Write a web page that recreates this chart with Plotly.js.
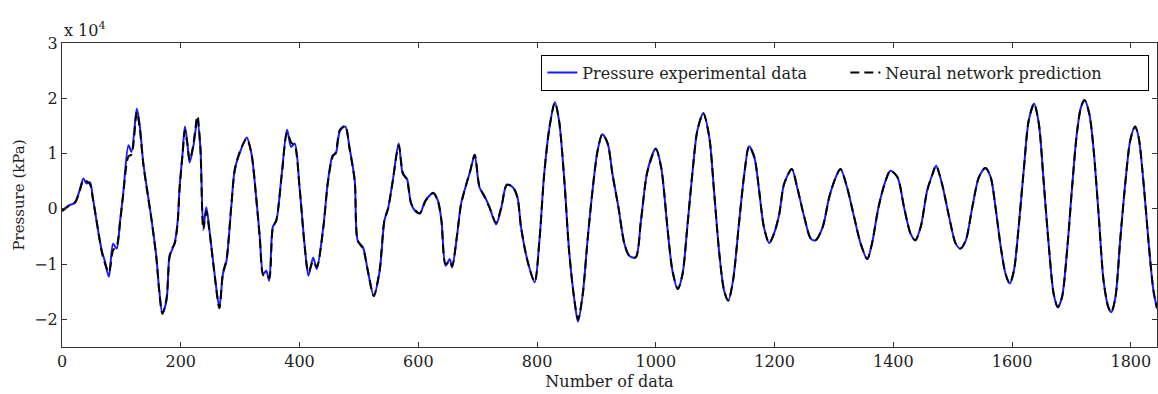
<!DOCTYPE html>
<html>
<head>
<meta charset="utf-8">
<script src="https://cdn.plot.ly/plotly-3.0.1.min.js"></script>
<style>html,body{margin:0;padding:0;background:#fff;}#chart{width:1158px;height:394px;}</style>
</head>
<body>
<div id="chart"></div>
<script>
// Sample index (Number of data)
var sampleIdx = [0,11,22,30,36,41,47,52,58,67,72,79,86,92,98,103,112,117,126,131,137,144,151,159,164,169,176,181,185,190,195,198,203,207,211,215,221,228,233,238,243,249,257,265,271,277,285,291,299,311,319,327,333,339,344,349,355,361,370,379,386,392,400,409,415,423,429,440,448,456,461,468,477,484,493,498,507,515,525,535,543,549,557,567,574,581,588,597,603,612,625,633,639,646,653,657,665,672,681,687,695,703,711,720,731,740,749,759,767,773,784,796,804,812,821,830,837,846,854,863,869,877,885,894,902,910,919,927,937,947,955,966,975,986,1000,1009,1020,1028,1037,1045,1053,1062,1070,1080,1090,1098,1107,1115,1122,1130,1140,1149,1157,1166,1174,1182,1191,1199,1208,1216,1229,1238,1250,1261,1269,1281,1292,1303,1311,1322,1334,1345,1356,1364,1375,1387,1395,1407,1418,1429,1437,1446,1457,1466,1472,1482,1494,1505,1513,1522,1533,1544,1555,1564,1572,1581,1589,1596,1603,1611,1620,1628,1637,1645,1653,1662,1670,1677,1684,1693,1701,1709,1716,1722,1730,1737,1746,1754,1762,1767,1774,1782,1791,1799,1807,1813,1822,1830,1838,1844];

// Pressure experimental data (x 10^4 kPa)
var pressureExperimental = [-0.04,0.06,0.11,0.35,0.55,0.46,0.48,0.2,-0.21,-0.76,-0.94,-1.23,-0.63,-0.72,-0.2,0.27,1.15,1.03,1.81,1.5,0.82,0.3,-0.21,-0.88,-1.5,-1.89,-1.66,-0.85,-0.75,-0.6,-0.2,0.39,1.0,1.49,1.2,0.84,1.12,1.6,1.12,-0.33,0.03,-0.45,-1.18,-1.78,-1.18,-0.94,0.03,0.72,1.0,1.29,1.0,0.21,-0.5,-1.18,-1.12,-1.3,-0.33,-0.21,0.63,1.43,1.12,1.18,0.39,-0.7,-1.21,-0.88,-1.09,-0.33,0.51,0.97,1.0,1.41,1.49,1.12,0.51,-0.57,-0.7,-1.12,-1.57,-1.12,-0.21,0.0,0.51,1.18,0.63,0.54,0.09,-0.06,-0.08,0.15,0.28,0.15,-0.21,-1.03,-0.91,-1.06,-0.51,0.09,0.45,0.66,0.97,0.39,0.24,0.03,-0.28,0.03,0.44,0.39,0.21,-0.33,-0.94,-1.33,-0.57,0.63,1.48,1.93,1.6,0.51,-0.76,-1.66,-2.04,-1.54,-0.57,0.39,1.06,1.35,1.18,0.63,0.03,-0.63,-0.85,-0.88,-0.21,0.69,1.09,0.75,-0.39,-1.12,-1.45,-1.18,-0.33,0.69,1.42,1.73,1.3,0.33,-0.82,-1.48,-1.66,-1.3,-0.27,0.63,1.13,0.93,0.33,-0.33,-0.62,-0.45,-0.09,0.45,0.72,0.39,-0.15,-0.54,-0.57,-0.33,0.21,0.57,0.72,0.39,-0.15,-0.63,-0.91,-0.63,0.03,0.51,0.69,0.57,0.03,-0.45,-0.57,-0.33,0.33,0.63,0.78,0.45,-0.15,-0.63,-0.72,-0.57,0.03,0.57,0.74,0.57,0.03,-0.7,-1.18,-1.35,-1.12,-0.33,0.75,1.6,1.9,1.54,0.51,-0.7,-1.54,-1.78,-1.6,-0.7,0.39,1.36,1.84,1.97,1.72,1.1,-0.15,-1.3,-1.78,-1.87,-1.6,-0.57,0.51,1.24,1.49,1.3,0.39,-0.63,-1.48,-1.8];

// Neural network prediction (x 10^4 kPa)
var pressurePrediction = [-0.04,0.05,0.12,0.33,0.52,0.5,0.45,0.18,-0.2,-0.78,-0.98,-1.15,-0.75,-0.68,-0.22,0.25,0.95,0.98,1.75,1.45,0.8,0.28,-0.22,-0.9,-1.52,-1.9,-1.62,-0.88,-0.73,-0.62,-0.22,0.36,0.98,1.42,1.18,0.88,1.15,1.68,1.1,-0.38,-0.05,-0.47,-1.2,-1.8,-1.16,-0.92,0.05,0.7,1.02,1.27,1.0,0.2,-0.52,-1.2,-1.18,-1.25,-0.35,-0.2,0.6,1.38,1.2,1.14,0.4,-0.72,-1.15,-0.95,-1.05,-0.35,0.5,0.95,1.02,1.43,1.5,1.1,0.5,-0.58,-0.72,-1.12,-1.58,-1.1,-0.2,0.0,0.5,1.15,0.65,0.52,0.1,-0.05,-0.08,0.14,0.29,0.14,-0.22,-1.0,-0.95,-1.04,-0.5,0.08,0.45,0.67,0.98,0.4,0.23,0.02,-0.25,0.04,0.43,0.4,0.2,-0.33,-0.95,-1.32,-0.57,0.62,1.48,1.92,1.6,0.5,-0.77,-1.66,-2.0,-1.54,-0.57,0.39,1.05,1.35,1.18,0.62,0.03,-0.63,-0.84,-0.88,-0.21,0.68,1.08,0.75,-0.39,-1.12,-1.45,-1.18,-0.33,0.69,1.42,1.73,1.3,0.33,-0.82,-1.48,-1.66,-1.3,-0.27,0.63,1.13,0.93,0.33,-0.33,-0.62,-0.45,-0.09,0.45,0.72,0.39,-0.15,-0.54,-0.57,-0.33,0.21,0.57,0.72,0.39,-0.15,-0.63,-0.91,-0.63,0.03,0.51,0.69,0.57,0.03,-0.45,-0.57,-0.33,0.33,0.63,0.78,0.45,-0.15,-0.63,-0.72,-0.57,0.03,0.57,0.74,0.57,0.03,-0.7,-1.18,-1.35,-1.12,-0.33,0.75,1.6,1.9,1.54,0.51,-0.7,-1.54,-1.78,-1.6,-0.7,0.39,1.36,1.84,1.97,1.72,1.1,-0.15,-1.3,-1.78,-1.87,-1.6,-0.57,0.51,1.24,1.49,1.3,0.39,-0.63,-1.48,-1.8];

var xTickVals = [0,200,400,600,800,1000,1200,1400,1600,1800];
var yTickVals = [-2,-1,0,1,2,3];
var seriesNames = ['Pressure experimental data','Neural network prediction'];

var fontFam = 'DejaVu Serif, serif';
var txtColor = '#222';
var traces = [
  {x: sampleIdx, y: pressureExperimental, type: 'scatter', mode: 'lines', name: seriesNames[0],
   line: {color: '#1a1aff', width: 2, shape: 'spline', smoothing: 0.8}},
  {x: sampleIdx, y: pressurePrediction, type: 'scatter', mode: 'lines', name: seriesNames[1],
   line: {color: '#000000', width: 2, dash: '9px,5px', shape: 'spline', smoothing: 0.8}}
];

var axisCommon = {showline: true, linecolor: '#333', linewidth: 1, mirror: 'ticks', ticks: 'inside',
  ticklen: 5, tickcolor: '#333', showgrid: false, zeroline: false,
  tickfont: {family: fontFam, size: 16, color: txtColor}};

var layout = {
  width: 1158, height: 394,
  margin: {l: 62, r: 1, t: 43, b: 47},
  paper_bgcolor: '#fff', plot_bgcolor: '#fff',
  showlegend: true,
  legend: {x: 0.993, y: 0.962, xanchor: 'right', yanchor: 'top', orientation: 'h',
    bgcolor: '#fff', bordercolor: '#000', borderwidth: 1, entrywidth: 258, entrywidthmode: 'pixels',
    font: {family: fontFam, size: 16, color: txtColor}},
  xaxis: Object.assign({}, axisCommon, {range: [0, 1844], tickvals: xTickVals,
    title: {text: 'Number of data', font: {family: fontFam, size: 16, color: txtColor}, standoff: 5}}),
  yaxis: Object.assign({}, axisCommon, {range: [-2.5, 3], tickvals: yTickVals,
    title: {text: 'Pressure (kPa)', font: {family: fontFam, size: 15, color: txtColor}, standoff: 5}}),
  annotations: [{xref: 'paper', yref: 'paper', x: 0, y: 1, xanchor: 'left', yanchor: 'bottom',
    yshift: 1, text: 'x 10<sup>4</sup>', showarrow: false,
    font: {family: fontFam, size: 16, color: txtColor}}]
};

Plotly.newPlot('chart', traces, layout, {staticPlot: true, displayModeBar: false});
</script>
</body>
</html>
